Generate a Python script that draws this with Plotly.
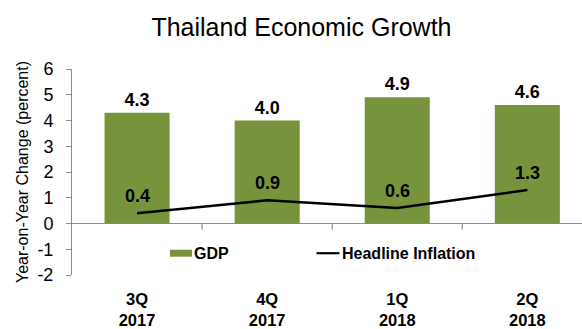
import plotly.graph_objects as go

# Quarterly data (year-on-year change, percent)
quarters = ["3Q 2017", "4Q 2017", "1Q 2018", "2Q 2018"]
tick_labels = ["3Q<br>2017", "4Q<br>2017", "1Q<br>2018", "2Q<br>2018"]
gdp = [4.3, 4.0, 4.9, 4.6]
inflation = [0.4, 0.9, 0.6, 1.3]
y_ticks = [-2, -1, 0, 1, 2, 3, 4, 5, 6]
y_tick_labels = ["-2", "-1", "0", "1", "2", "3", "4", "5", "6"]

FONT = "Liberation Sans, Arial, sans-serif"
BAR_GREEN = "#77933C"
AXIS_GREY = "#8c8c8c"

W, H = 582, 329
ML, MR, MT, MB = 72, 0, 69, 52
PLOT_W, PLOT_H = W - ML - MR, H - MT - MB


def px_x(px):
    """Pixel column -> paper x fraction."""
    return (px - ML) / PLOT_W


def px_y(py):
    """Pixel row -> paper y fraction."""
    return (H - MB - py) / PLOT_H


xpos = list(range(len(quarters)))

fig = go.Figure()

fig.add_trace(go.Bar(
    x=xpos, y=gdp, name="GDP",
    width=0.5,
    marker=dict(color=BAR_GREEN, line=dict(width=0)),
    text=[f"{v:.1f}" for v in gdp],
    textposition="outside",
    textfont=dict(family=FONT, size=18, color="black", weight="bold"),
    cliponaxis=False,
    showlegend=False,
))

fig.add_trace(go.Scatter(
    x=xpos, y=inflation, name="Headline Inflation",
    mode="lines",
    line=dict(color="black", width=2.5),
    cliponaxis=False,
    showlegend=False,
))

# Inflation value labels sit a little above each point
annotations = [
    dict(x=x, y=v, xref="x", yref="y", text=f"<b>{v:.1f}</b>",
         showarrow=False, yshift=17, yanchor="middle",
         font=dict(family=FONT, size=18, color="black"))
    for x, v in zip(xpos, inflation)
]

# Legend drawn inside the plot area
LEG_Y = px_y(255)
annotations += [
    dict(x=px_x(192), y=LEG_Y, xref="paper", yref="paper", text="<b>GDP</b>",
         showarrow=False, xanchor="left", yanchor="middle",
         font=dict(family=FONT, size=16, color="black")),
    dict(x=px_x(340), y=LEG_Y, xref="paper", yref="paper",
         text="<b>Headline Inflation</b>",
         showarrow=False, xanchor="left", yanchor="middle",
         font=dict(family=FONT, size=16, color="black")),
]
shapes = [
    dict(type="rect", xref="paper", yref="paper",
         x0=px_x(170), x1=px_x(192), y0=px_y(251.5), y1=px_y(258.5),
         fillcolor=BAR_GREEN, line=dict(width=0)),
    dict(type="line", xref="paper", yref="paper",
         x0=px_x(316.5), x1=px_x(339.5), y0=LEG_Y, y1=LEG_Y,
         line=dict(color="black", width=2.2)),
]

# Separator ticks between quarters, hanging from the zero line
for b in [i + 0.5 for i in xpos[:-1]]:
    shapes.append(dict(type="line", xref="x", yref="y",
                       ysizemode="pixel", yanchor=0,
                       x0=b, x1=b, y0=0, y1=-6,
                       line=dict(color=AXIS_GREY, width=1.2)))

fig.update_layout(
    width=W, height=H,
    margin=dict(l=ML, r=MR, t=MT, b=MB),
    paper_bgcolor="white", plot_bgcolor="white",
    font=dict(family=FONT, color="black"),
    title=dict(text="Thailand Economic Growth", x=0.518, xanchor="center",
               y=0.918, yanchor="middle",
               font=dict(family=FONT, size=25, color="black")),
    showlegend=False,
    annotations=annotations,
    shapes=shapes,
    xaxis=dict(
        range=[-0.5, 3.42],
        tickmode="array", tickvals=xpos, ticktext=tick_labels,
        tickfont=dict(family=FONT, size=16.5, color="black", weight="bold"),
        showline=False, showgrid=False, zeroline=False, ticks="",
        ticklabelstandoff=12,
    ),
    yaxis=dict(
        range=[-2, 6],
        tickmode="array", tickvals=y_ticks, ticktext=y_tick_labels,
        showgrid=False,
        zeroline=True, zerolinecolor=AXIS_GREY, zerolinewidth=1,
        showline=True, linecolor=AXIS_GREY, linewidth=1,
        ticks="outside", ticklen=5, tickcolor=AXIS_GREY,
        tickfont=dict(family=FONT, size=18, color="black"),
        ticklabelstandoff=9,
        title=dict(text="Year-on-Year Change (percent)",
                   font=dict(family=FONT, size=16, color="black"),
                   standoff=4),
    ),
)

fig.write_html("out.html")
